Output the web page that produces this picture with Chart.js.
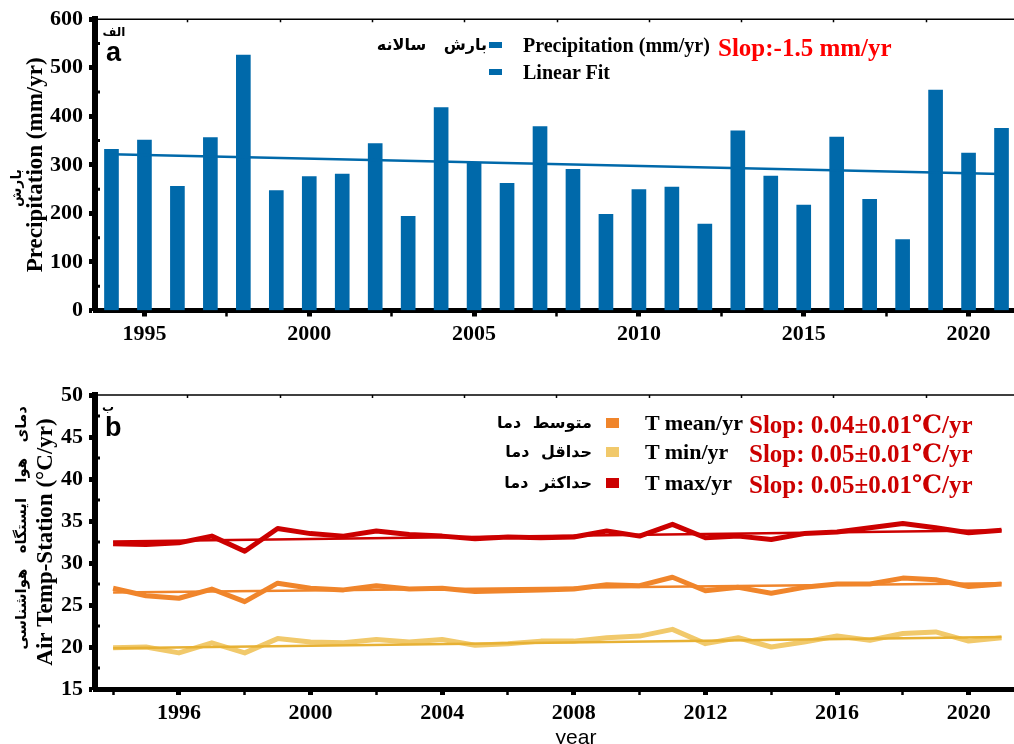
<!DOCTYPE html>
<html>
<head>
<meta charset="utf-8">
<script src="https://cdn.jsdelivr.net/npm/chart.js@4.4.1/dist/chart.umd.min.js"></script>
<style>
  html, body { margin: 0; padding: 0; background: #fff; width: 1014px; height: 744px; overflow: hidden; }
  #wrap { position: relative; width: 1014px; height: 744px; overflow: hidden; }
  .cbox { position: absolute; left: 0; width: 1030px; }
  .t { position: absolute; white-space: nowrap; line-height: 1; color: #000; }
  .serif { font-family: 'Liberation Serif', 'Times New Roman', 'DejaVu Serif', serif; font-weight: bold; }
  .sans { font-family: 'Liberation Sans', Arial, sans-serif; }
  .fa { font-family: 'DejaVu Sans', sans-serif; font-weight: bold; direction: rtl; }
  .mk { position: absolute; }
</style>
</head>
<body>
<div id="wrap">
  <div class="cbox" style="top:0;height:360px"><canvas id="precipChart"></canvas></div>
  <div class="cbox" style="top:370px;height:380px"><canvas id="tempChart"></canvas></div>
  <div id="overlay"></div>
</div>
<script>
// ---- annual precipitation (mm/yr) ----
const years = [1994, 1995, 1996, 1997, 1998, 1999, 2000, 2001, 2002, 2003, 2004, 2005, 2006, 2007,
               2008, 2009, 2010, 2011, 2012, 2013, 2014, 2015, 2016, 2017, 2018, 2019, 2020, 2021];
const precipitation = [332, 351, 256, 356, 526, 247, 276, 281, 344, 194, 418, 303, 262, 379,
                       291, 198, 249, 254, 178, 370, 277, 217, 357, 229, 146, 454, 324, 375];
const precipFitYears = [1994, 2021];
const precipFit = [322, 281];

// ---- station air temperature (°C) ----
const tMean = [27.0, 26.1, 25.8, 26.9, 25.4, 27.6, 27.0, 26.8, 27.3, 26.9, 27.0, 26.6, 26.7, 26.8,
               26.9, 27.4, 27.3, 28.3, 26.7, 27.1, 26.4, 27.1, 27.5, 27.5, 28.2, 28.0, 27.2, 27.5];
const tMin  = [19.9, 20.0, 19.3, 20.5, 19.3, 21.0, 20.6, 20.5, 20.9, 20.6, 20.9, 20.2, 20.4, 20.7,
               20.7, 21.1, 21.3, 22.1, 20.4, 21.1, 20.0, 20.6, 21.3, 20.8, 21.6, 21.8, 20.7, 21.1];
const tMax  = [32.3, 32.2, 32.4, 33.2, 31.4, 34.1, 33.5, 33.2, 33.8, 33.4, 33.2, 32.9, 33.1, 33.0,
               33.1, 33.8, 33.2, 34.6, 33.0, 33.2, 32.8, 33.5, 33.7, 34.2, 34.7, 34.2, 33.6, 33.9];
const tempFitYears = [1994, 2021];
const tMeanFit = [26.5, 27.6];
const tMinFit  = [19.85, 21.2];
const tMaxFit  = [32.55, 33.9];

// ---- tick labels ----
const precipYTicks = [0, 100, 200, 300, 400, 500, 600];
const precipYMinor = [50, 150, 250, 350, 450, 550];
const precipXMajor = [1995, 2000, 2005, 2010, 2015, 2020];
const precipXMinor = [1997.5, 2002.5, 2007.5, 2012.5, 2017.5];
const tempYTicks = [15, 20, 25, 30, 35, 40, 45, 50];
const tempYMinor = [17.5, 22.5, 27.5, 32.5, 37.5, 42.5, 47.5];
const tempXMajor = [1996, 2000, 2004, 2008, 2012, 2016, 2020];
const tempXMinor = [1994, 1998, 2002, 2006, 2010, 2014, 2018];

// ---- texts ----
const precipTitle = 'Precipitation (mm/yr)';
const precipTitleFa = 'بارش';
const precipLegend = ['Precipitation (mm/yr)', 'Linear Fit'];
const precipLegendFa = 'بارش سالانه';
const precipSlope = 'Slop:-1.5 mm/yr';
const tempTitle = 'Air Temp-Station (°C/yr)';
const tempTitleFa = 'دمای هوا ایستگاه هواشناسی';
const tempLegend = ['T mean/yr', 'T min/yr', 'T max/yr'];
const tempLegendFa = ['متوسط دما', 'حداقل دما', 'حداکثر دما'];
const tempSlopes = ['Slop: 0.04±0.01℃/yr', 'Slop: 0.05±0.01℃/yr', 'Slop: 0.05±0.01℃/yr'];
const panelLetters = ['a', 'b'];
const panelLettersFa = ['الف', 'ب'];
const xTitle = 'year';

// ---- colours ----
const BLUE = '#0069aa';
const C_MEAN = '#f0852b';
const C_MIN = '#f1c96b';
const C_MIN_FIT = '#e7b134';
const C_MAX = '#cc0000';

const SERIF = "'Liberation Serif', 'Times New Roman', serif";

function pts(xs, ys) { return xs.map((x, i) => ({ x: x, y: ys[i] })); }

function setTicks(major, minor) {
  return function (scale) {
    const all = major.map(v => ({ value: v, major: true }))
      .concat(minor.map(v => ({ value: v, major: false })));
    all.sort((a, b) => a.value - b.value);
    scale.ticks = all;
  };
}

// Thin top/right frame with small inward ticks, plus minor inward y ticks
const framePlugin = {
  id: 'frame',
  afterDraw(chart, args, opts) {
    const { ctx, chartArea: a, scales } = chart;
    ctx.save();
    ctx.strokeStyle = '#000';
    ctx.lineWidth = 1.5;
    ctx.beginPath();
    ctx.moveTo(a.left, a.top);
    ctx.lineTo(a.right, a.top);
    ctx.lineTo(a.right, a.bottom);
    const x = scales.x;
    for (let k = 1; k < 10; k++) {
      const px = Math.round(x.getPixelForValue(x.min + (x.max - x.min) * k / 10)) + 0.5;
      ctx.moveTo(px, a.top);
      ctx.lineTo(px, a.top + 3);
    }
    ctx.stroke();
    ctx.lineWidth = 3;
    ctx.beginPath();
    (opts.yMinor || []).forEach(v => {
      const py = scales.y.getPixelForValue(v);
      ctx.moveTo(a.left, py);
      ctx.lineTo(a.left + 5, py);
    });
    ctx.stroke();
    ctx.restore();
  }
};

function xAxis(min, max, major, minor, height) {
  return {
    type: 'linear', min: min, max: max, offset: false,
    afterBuildTicks: setTicks(major, minor),
    afterFit: s => { s.height = height; },
    grid: {
      offset: false, drawOnChartArea: false, drawTicks: true, tickLength: 6,
      tickWidth: c => (c.tick && c.tick.major ? 5 : 2.5), tickColor: '#000'
    },
    border: { display: true, width: 5, color: '#000' },
    ticks: {
      autoSkip: false, maxRotation: 0, minRotation: 0, padding: 5, color: '#000',
      font: { family: SERIF, size: 22, weight: 'bold' },
      callback: function (v, i, ticks) { return ticks[i].major ? String(v) : ''; }
    }
  };
}

function yAxis(min, max, ticks, title, titlePad) {
  return {
    min: min, max: max,
    afterBuildTicks: setTicks(ticks, []),
    afterFit: s => { s.width = 95; },
    grid: { drawOnChartArea: false, drawTicks: true, tickLength: 6, tickWidth: 5, tickColor: '#000' },
    border: { display: true, width: 6, color: '#000' },
    ticks: { padding: 6, color: '#000', font: { family: SERIF, size: 22, weight: 'bold' } },
    title: {
      display: true, text: title, color: '#000', padding: { top: titlePad, bottom: 0 },
      font: { family: SERIF, size: 23, weight: 'bold' }
    }
  };
}

Chart.defaults.animation = false;

new Chart(document.getElementById('precipChart'), {
  type: 'bar',
  data: {
    datasets: [
      {
        type: 'line', label: precipLegend[1], data: pts(precipFitYears, precipFit),
        borderColor: BLUE, borderWidth: 2.5, pointRadius: 0, order: 1
      },
      {
        type: 'bar', label: precipLegend[0], data: pts(years, precipitation),
        backgroundColor: BLUE, barThickness: 14, order: 2
      }
    ]
  },
  options: {
    responsive: true, maintainAspectRatio: false,
    layout: { padding: { left: 0, top: 19, right: 12, bottom: 0 } },
    plugins: { legend: { display: false }, tooltip: { enabled: false }, frame: { yMinor: precipYMinor } },
    scales: {
      x: xAxis(1993.5, 2021.5, precipXMajor, precipXMinor, 49.5),
      y: yAxis(0, 600, precipYTicks, precipTitle, 22)
    }
  },
  plugins: [framePlugin]
});

new Chart(document.getElementById('tempChart'), {
  type: 'line',
  data: {
    datasets: [
      { label: tempLegend[2] + ' fit', data: pts(tempFitYears, tMaxFit), borderColor: C_MAX, borderWidth: 2.5, order: 1 },
      { label: tempLegend[0] + ' fit', data: pts(tempFitYears, tMeanFit), borderColor: C_MEAN, borderWidth: 2.5, order: 1 },
      { label: tempLegend[1] + ' fit', data: pts(tempFitYears, tMinFit), borderColor: C_MIN_FIT, borderWidth: 2.5, order: 1 },
      { label: tempLegend[2], data: pts(years, tMax), borderColor: C_MAX, borderWidth: 5, order: 2 },
      { label: tempLegend[0], data: pts(years, tMean), borderColor: C_MEAN, borderWidth: 5, order: 2 },
      { label: tempLegend[1], data: pts(years, tMin), borderColor: C_MIN, borderWidth: 5, order: 2 }
    ]
  },
  options: {
    responsive: true, maintainAspectRatio: false,
    elements: { point: { radius: 0 }, line: { tension: 0, borderJoinStyle: 'round', borderCapStyle: 'butt' } },
    layout: { padding: { left: 0, top: 25, right: 12, bottom: 0 } },
    plugins: { legend: { display: false }, tooltip: { enabled: false }, frame: { yMinor: tempYMinor } },
    scales: {
      x: xAxis(1993.45, 2021.5, tempXMajor, tempXMinor, 61),
      y: yAxis(15, 50, tempYTicks, tempTitle, 32)
    }
  },
  plugins: [framePlugin]
});

// ---- text overlay: panel letters, Persian labels, legends ----
const overlay = document.getElementById('overlay');
function put(text, cls, x, y, anchor, style) {
  const el = document.createElement('div');
  el.className = 't ' + cls;
  el.textContent = text;
  el.style.left = x + 'px';
  el.style.top = y + 'px';
  const tx = anchor === 'right' ? '-100%' : anchor === 'center' ? '-50%' : '0';
  el.style.transform = 'translate(' + tx + ',-50%)' + (style.rotate ? ' rotate(-90deg)' : '');
  if (style.rotate) el.style.transformOrigin = '50% 50%';
  Object.keys(style).forEach(k => { if (k !== 'rotate') el.style[k] = style[k]; });
  overlay.appendChild(el);
  return el;
}
function box(x, y, w, h, color) {
  const el = document.createElement('div');
  el.className = 'mk';
  el.style.left = x + 'px'; el.style.top = y + 'px';
  el.style.width = w + 'px'; el.style.height = h + 'px';
  el.style.background = color;
  overlay.appendChild(el);
}

// panel (a)
put(panelLettersFa[0], 'fa', 114, 32, 'center', { fontSize: '12px' });
put(panelLetters[0], 'sans', 106, 52, 'left', { fontSize: '27px', fontWeight: 'bold' });
put(precipTitleFa, 'fa', 16, 188, 'center', { fontSize: '14px', rotate: true });
put(precipLegendFa, 'fa', 487, 45, 'right', { fontSize: '16px', wordSpacing: '12px' });
box(489, 42, 13, 6, BLUE);
put(precipLegend[0], 'serif', 523, 45, 'left', { fontSize: '20px' });
put(precipSlope, 'serif', 718, 47, 'left', { fontSize: '25px', color: '#ff0000' });
box(489, 69, 13, 6, BLUE);
put(precipLegend[1], 'serif', 523, 72, 'left', { fontSize: '20px' });

// panel (b)
put(panelLettersFa[1], 'fa', 108, 407, 'center', { fontSize: '12px' });
put(panelLetters[1], 'sans', 105, 427, 'left', { fontSize: '27px', fontWeight: 'bold' });
put(tempTitleFa, 'fa', 21, 528, 'center', { fontSize: '15px', wordSpacing: '10px', rotate: true });
const rowY = [423, 452, 483];
const rowColor = [C_MEAN, C_MIN, C_MAX];
rowY.forEach((cy, i) => {
  put(tempLegendFa[i], 'fa', 592, cy, 'right', { fontSize: '16px', wordSpacing: '6px' });
  box(606, cy - 5, 13, 10, rowColor[i]);
  put(tempLegend[i], 'serif', 645, cy, 'left', { fontSize: '22px' });
  put(tempSlopes[i], 'serif', 749, cy + 1, 'left', { fontSize: '25px', color: C_MAX });
});
put(xTitle, 'sans', 576, 736, 'center', { fontSize: '21px' });
</script>
</body>
</html>
